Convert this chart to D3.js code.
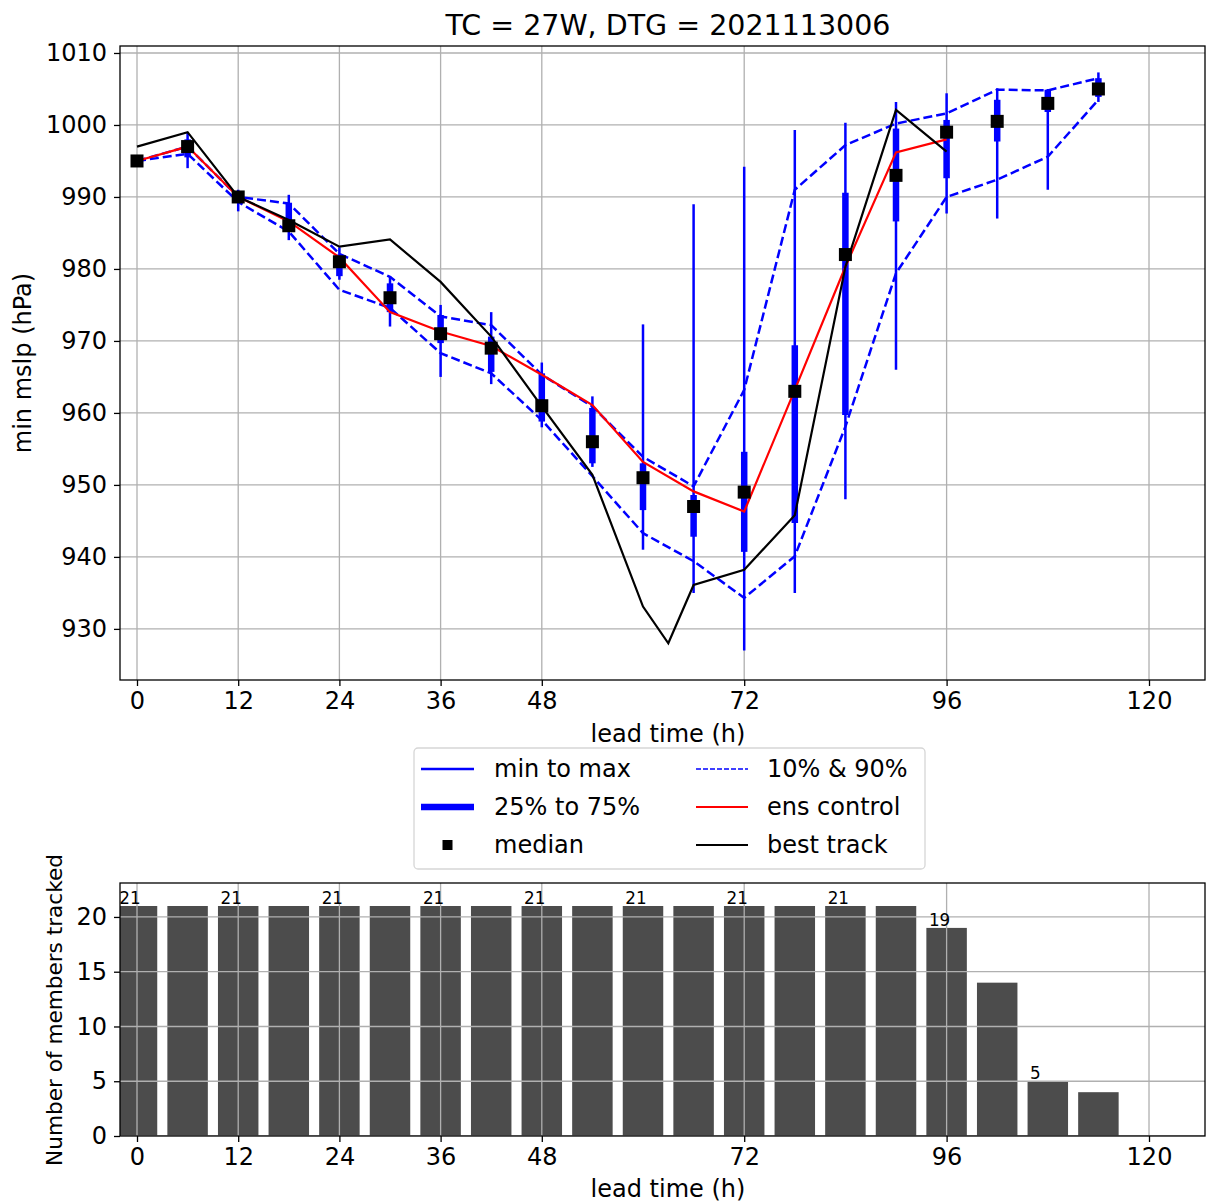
<!DOCTYPE html>
<html>
<head>
<meta charset="utf-8">
<script src="https://cdn.jsdelivr.net/npm/d3@7"></script>
<style>
  body { margin: 0; background: #fff; }
  text { font-family: "DejaVu Sans", sans-serif; fill: #000; }
</style>
</head>
<body>
<svg id="chart" width="1207" height="1204"></svg>
<script>
// ensemble stats at each lead time (hPa)
var leads = [0, 6, 12, 18, 24, 30, 36, 42, 48, 54, 60, 66, 72, 78, 84, 90, 96, 102, 108, 114];
var median = [995, 997, 990, 986, 981, 976, 971, 969, 961, 956, 951, 947, 949, 963, 982, 993, 999, 1000.5, 1003, 1005];
var pMin = [995, 994, 988, 984, 978.5, 972, 965, 964, 958, 952.5, 941, 935, 927, 935, 948, 966, 987.7, 987, 991, 1003.2];
var pMax = [995.5, 999, 991, 990.3, 983, 979, 975, 974, 967, 962.3, 972.3, 989, 994.2, 999.3, 1000.3, 1003.2, 1004.4, 1005.1, 1005, 1007.3];
var q25 = [994.6, 995.5, 989.5, 985.4, 979, 974, 969.7, 965.7, 958.8, 953, 946.5, 942.8, 940.7, 944.7, 959.7, 986.6, 992.6, 997.7, 1001.8, 1003.9];
var q75 = [995.4, 998, 990.5, 989.2, 982, 978, 973.6, 970.6, 965.5, 960.7, 953, 948.6, 954.6, 969.4, 990.6, 999.5, 1000.7, 1003.5, 1004.9, 1006.5];
var p10 = [995, 996, 989.3, 985.2, 977.1, 974.6, 968.3, 965.5, 959, 951.2, 943.3, 939.4, 934.3, 940.1, 958.1, 979.4, 990, 992.4, 995.6, 1003.5];
var p90 = [995, 997, 990, 989.1, 982.1, 978.9, 973.4, 972.2, 965.3, 960.9, 953.9, 949.8, 963.2, 991, 997.2, 1000.2, 1001.6, 1004.9, 1004.8, 1006.5];

// ensemble control run
var ctrlLeads = [0, 6, 12, 18, 24, 30, 36, 42, 48, 54, 60, 66, 72, 78, 84, 90, 96];
var ctrl = [995, 997, 990, 986.6, 981.6, 974, 971.3, 969.3, 965.3, 961.1, 953.2, 949.1, 946.3, 963.2, 980.3, 996.2, 998];

// best track
var bestLeads = [0, 6, 12, 18, 24, 30, 36, 42, 48, 54, 60, 63, 66, 72, 78, 84, 90, 96];
var best = [997, 999, 990, 986.8, 983.1, 984.1, 978.2, 970.6, 960.9, 951.4, 933.1, 928, 936.1, 938.2, 945.8, 980.3, 1002.1, 996.3];

// members tracked
var members = [21, 21, 21, 21, 21, 21, 21, 21, 21, 21, 21, 21, 21, 21, 21, 21, 19, 14, 5, 4];

var xTicks = [0, 12, 24, 36, 48, 72, 96, 120];
var yTicks = [930, 940, 950, 960, 970, 980, 990, 1000, 1010];
var nTicks = [0, 5, 10, 15, 20];

var BLUE = "#0000ff", GRID = "#b0b0b0";
var LEFT = 120, RIGHT = 1205;

var svg = d3.select("#chart");

var x = d3.scaleLinear().domain([-2.016, 126.64]).range([LEFT, RIGHT]);
var y = d3.scaleLinear().domain([922.9, 1010.97]).range([680, 46]);
var yn = d3.scaleLinear().domain([0, 23.1]).range([1136, 883]);

function clip(id, y0, y1) {
    svg.append("clipPath").attr("id", id)
        .append("rect").attr("x", LEFT).attr("y", y0)
        .attr("width", RIGHT - LEFT).attr("height", y1 - y0);
}
clip("clipTop", 46, 680);
clip("clipBot", 883, 1136);

function grid(g, ys, yScale, y0, y1) {
    g.selectAll("line.gx").data(xTicks).enter().append("line")
        .attr("x1", function(d){ return x(d); }).attr("x2", function(d){ return x(d); })
        .attr("y1", y0).attr("y2", y1)
        .attr("stroke", GRID).attr("stroke-width", 1.3);
    g.selectAll("line.gy").data(ys).enter().append("line")
        .attr("x1", LEFT).attr("x2", RIGHT)
        .attr("y1", function(d){ return yScale(d); }).attr("y2", function(d){ return yScale(d); })
        .attr("stroke", GRID).attr("stroke-width", 1.3);
}

function axes(yScale, ys, y0, y1) {
    var ax = svg.append("g").attr("transform", "translate(0," + y1 + ")")
        .call(d3.axisBottom(x).tickValues(xTicks).tickFormat(d3.format("d")).tickSize(6).tickPadding(6));
    var ay = svg.append("g").attr("transform", "translate(" + LEFT + ",0)")
        .call(d3.axisLeft(yScale).tickValues(ys).tickFormat(d3.format("d")).tickSize(6).tickPadding(7));
    [ax, ay].forEach(function(a){
        a.select(".domain").remove();
        a.selectAll("line").attr("stroke", "#000").attr("stroke-width", 1.3);
        a.selectAll("text").attr("font-size", "24px").attr("font-family", "DejaVu Sans");
    });
    svg.append("rect").attr("x", LEFT).attr("y", y0)
        .attr("width", RIGHT - LEFT).attr("height", y1 - y0)
        .attr("fill", "none").attr("stroke", "#000").attr("stroke-width", 1.3);
}

// ---------- top panel ----------
var topG = svg.append("g").attr("clip-path", "url(#clipTop)");
grid(topG, yTicks, y, 46, 680);

var idx = d3.range(leads.length);

// min to max
topG.selectAll("line.mm").data(idx).enter().append("line")
    .attr("x1", function(i){ return x(leads[i]); }).attr("x2", function(i){ return x(leads[i]); })
    .attr("y1", function(i){ return y(pMin[i]); }).attr("y2", function(i){ return y(pMax[i]); })
    .attr("stroke", BLUE).attr("stroke-width", 2.5);

// 25% to 75%
topG.selectAll("line.iq").data(idx).enter().append("line")
    .attr("x1", function(i){ return x(leads[i]); }).attr("x2", function(i){ return x(leads[i]); })
    .attr("y1", function(i){ return y(q25[i]); }).attr("y2", function(i){ return y(q75[i]); })
    .attr("stroke", BLUE).attr("stroke-width", 6.5);

var line = d3.line().x(function(d){ return x(d[0]); }).y(function(d){ return y(d[1]); });

[p10, p90].forEach(function(s){
    topG.append("path").datum(d3.zip(leads, s)).attr("d", line)
        .attr("fill", "none").attr("stroke", BLUE).attr("stroke-width", 2.5)
        .attr("stroke-dasharray", "9,4");
});

topG.append("path").datum(d3.zip(ctrlLeads, ctrl)).attr("d", line)
    .attr("fill", "none").attr("stroke", "#ff0000").attr("stroke-width", 2.2);

topG.append("path").datum(d3.zip(bestLeads, best)).attr("d", line)
    .attr("fill", "none").attr("stroke", "#000").attr("stroke-width", 2.2);

// medians
topG.selectAll("rect.med").data(idx).enter().append("rect")
    .attr("x", function(i){ return x(leads[i]) - 6.5; })
    .attr("y", function(i){ return y(median[i]) - 6.5; })
    .attr("width", 13).attr("height", 13).attr("fill", "#000");

axes(y, yTicks, 46, 680);

svg.append("text").attr("x", 668).attr("y", 35).attr("text-anchor", "middle")
    .attr("font-size", "28.5px").text("TC = 27W, DTG = 2021113006");
svg.append("text").attr("x", 668).attr("y", 742).attr("text-anchor", "middle")
    .attr("font-size", "24px").text("lead time (h)");
svg.append("text").attr("transform", "translate(31,363) rotate(-90)").attr("text-anchor", "middle")
    .attr("font-size", "24px").text("min mslp (hPa)");

// legend
var lg = svg.append("g");
lg.append("rect").attr("x", 414).attr("y", 748).attr("width", 511).attr("height", 121)
    .attr("rx", 4).attr("fill", "#fff").attr("stroke", "#d6d6d6").attr("stroke-width", 1.3);
var rows = [769, 807, 845];
var legendItems = [
    {col: 0, row: 0, label: "min to max", color: BLUE, w: 2.5, dash: null},
    {col: 0, row: 1, label: "25% to 75%", color: BLUE, w: 6.5, dash: null},
    {col: 0, row: 2, label: "median", marker: true},
    {col: 1, row: 0, label: "10% & 90%", color: BLUE, w: 1.3, dash: "5,2"},
    {col: 1, row: 1, label: "ens control", color: "#ff0000", w: 2.2, dash: null},
    {col: 1, row: 2, label: "best track", color: "#000", w: 2.2, dash: null}
];
var colX = [[421, 474, 494], [696, 748, 767]];
legendItems.forEach(function(it){
    var c = colX[it.col], cy = rows[it.row];
    if (it.marker) {
        lg.append("rect").attr("x", (c[0] + c[1]) / 2 - 5).attr("y", cy - 5)
            .attr("width", 10).attr("height", 10).attr("fill", "#000");
    } else {
        var l = lg.append("line").attr("x1", c[0]).attr("x2", c[1]).attr("y1", cy).attr("y2", cy)
            .attr("stroke", it.color).attr("stroke-width", it.w);
        if (it.dash) l.attr("stroke-dasharray", it.dash);
    }
    lg.append("text").attr("x", c[2]).attr("y", cy).attr("dy", "0.35em")
        .attr("font-size", "24px").text(it.label);
});

// ---------- bottom panel ----------
var botG = svg.append("g").attr("clip-path", "url(#clipBot)");
var barW = x(4.8) - x(0);
botG.selectAll("rect.bar").data(idx).enter().append("rect")
    .attr("x", function(i){ return x(leads[i]) - barW / 2; })
    .attr("y", function(i){ return yn(members[i]); })
    .attr("width", barW)
    .attr("height", function(i){ return yn(0) - yn(members[i]); })
    .attr("fill", "#4c4c4c");
grid(botG, nTicks, yn, 883, 1136);

botG.selectAll("text.lab").data(idx.filter(function(i){ return i % 2 === 0; })).enter().append("text")
    .attr("x", function(i){ return x(leads[i] - 2.1); })
    .attr("y", function(i){ return yn(members[i]) - 2; })
    .attr("font-size", "16.8px").text(function(i){ return members[i]; });

axes(yn, nTicks, 883, 1136);

svg.append("text").attr("x", 668).attr("y", 1197).attr("text-anchor", "middle")
    .attr("font-size", "24px").text("lead time (h)");
svg.append("text").attr("transform", "translate(62,1010) rotate(-90)").attr("text-anchor", "middle")
    .attr("font-size", "21.6px").text("Number of members tracked");
</script>
</body>
</html>
